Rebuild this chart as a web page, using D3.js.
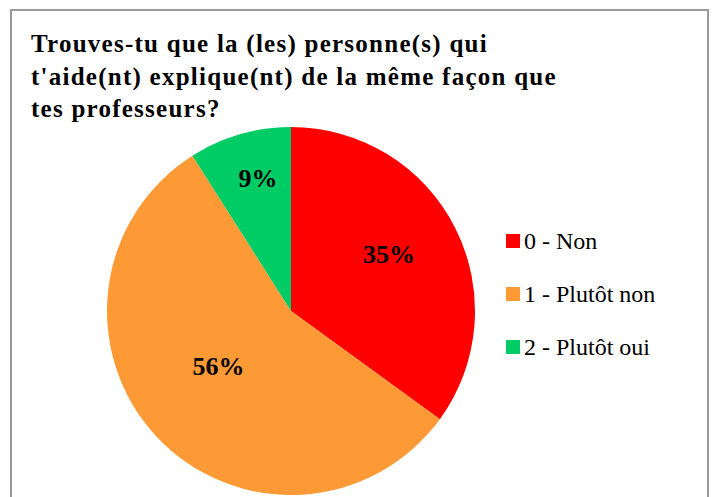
<!DOCTYPE html>
<html>
<head>
<meta charset="utf-8">
<script src="https://cdn.jsdelivr.net/npm/d3@7"></script>
</head>
<body style="margin:0">
<svg id="chart" width="712" height="497"></svg>
<script>
// data
var categories = ["0 - Non", "1 - Plutôt non", "2 - Plutôt oui"];
var values = [35, 56, 9];
var colors = ["#ff0000", "#fd9a36", "#00cc66"];
var titleLines = [
    "Trouves-tu que la (les) personne(s) qui",
    "t'aide(nt) explique(nt) de la même façon que",
    "tes professeurs?"
];

// where the % labels sit: share of radius, and a small turn (degrees) off the slice middle
var labelDist = [0.616, 0.494, 0.745];
var labelShift = [-3.2, 6.2, 2.3];

var serif = "'Liberation Serif'";

var svg = d3.select("#chart");

// frame
svg.append("rect")
    .attr("x", 11)
    .attr("y", 10)
    .attr("width", 697)
    .attr("height", 500)
    .attr("fill", "#fff")
    .attr("stroke", "#9a9a9a")
    .attr("stroke-width", 2);

// title, one text per line
titleLines.forEach(function (line, i) {
    svg.append("text")
        .attr("x", 31)
        .attr("y", 52 + i * 32.5)
        .style("font-family", serif)
        .style("letter-spacing", "1.25px")
        .attr("font-size", 25)
        .attr("font-weight", "bold")
        .text(line);
});

// pie
var cx = 291, cy = 311, radius = 184;

var pie = d3.pie().sort(null).value(function (d) { return d; });
var arcs = pie(values);
var arc = d3.arc().innerRadius(0).outerRadius(radius);
var total = d3.sum(values);

var g = svg.append("g")
    .attr("transform", "translate(" + cx + "," + cy + ")");

g.selectAll("path")
    .data(arcs)
    .enter()
    .append("path")
    .attr("d", arc)
    .attr("fill", function (d, i) { return colors[i]; });

arcs.forEach(function (d, i) {
    var a = (d.startAngle + d.endAngle) / 2 + labelShift[i] * Math.PI / 180;
    var r = radius * labelDist[i];
    g.append("text")
        .attr("x", r * Math.sin(a))
        .attr("y", -r * Math.cos(a) + 9)
        .attr("text-anchor", "middle")
        .style("font-family", serif)
        .attr("font-size", 26)
        .attr("font-weight", "bold")
        .text(Math.round(d.value / total * 100) + "%");
});

// legend
categories.forEach(function (name, i) {
    var y = 234 + i * 53;
    svg.append("rect")
        .attr("x", 506)
        .attr("y", y)
        .attr("width", 14)
        .attr("height", 14)
        .attr("fill", colors[i]);
    svg.append("text")
        .attr("x", 524)
        .attr("y", y + 15)
        .style("font-family", serif)
        .attr("font-size", 24)
        .text(name);
});
</script>
</body>
</html>
